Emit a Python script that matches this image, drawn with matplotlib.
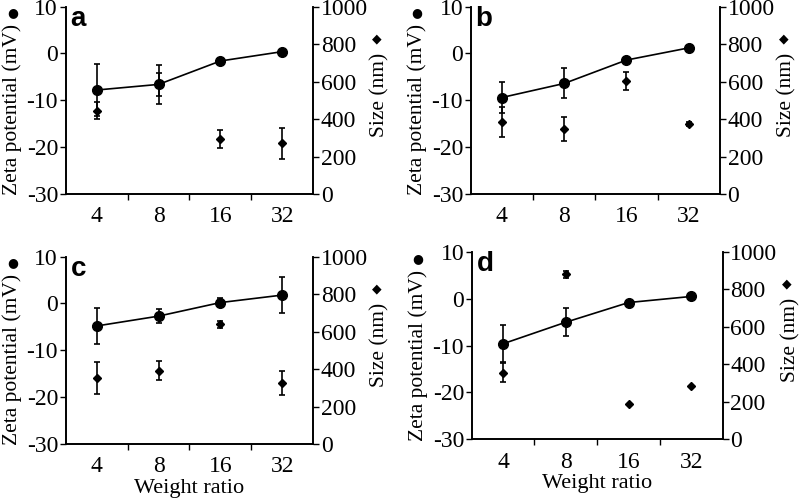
import matplotlib.pyplot as plt
import numpy as np

plt.rcParams['font.family'] = ['Liberation Serif', 'DejaVu Sans']
plt.rcParams['axes.unicode_minus'] = False

ratios = ['4', '8', '16', '32']

# zeta potential (mV) and particle size (nm) for the four panels
zeta_a = [-7.8, -6.6, -1.6, 0.4]
zeta_a_err = [5.6, 4.2, 0.6, 0.4]
size_a = [445, 585, 292, 270]
size_a_err = [47, 60, 47, 84]

zeta_b = [-9.4, -6.4, -1.4, 1.2]
zeta_b_err = [3.3, 3.2, 0.6, 0.6]
size_b = [385, 345, 603, 374]
size_b_err = [80, 64, 47, 10]

zeta_c = [-4.8, -2.7, 0.2, 1.8]
zeta_c_err = [3.75, 1.5, 0.9, 3.85]
size_c = [352, 391, 639, 324]
size_c_err = [84, 52, 20, 63]

zeta_d = [-9.6, -5.0, -0.8, 0.5]
zeta_d_err = [4.0, 2.95, 0.3, 0.6]
size_d = [356, 880, 190, 283]
size_d_err = [52, 20, 0, 0]

panels = [
    ('a', zeta_a, zeta_a_err, size_a, size_a_err, [0.0822, 0.6128, 0.3099, 0.3739], False),
    ('b', zeta_b, zeta_b_err, size_b, size_b_err, [0.5891, 0.6128, 0.3120, 0.3739], False),
    ('c', zeta_c, zeta_c_err, size_c, size_c_err, [0.0822, 0.1138, 0.3099, 0.3739], True),
    ('d', zeta_d, zeta_d_err, size_d, size_d_err, [0.5904, 0.1232, 0.3141, 0.3739], True),
]

fig = plt.figure(figsize=(7.99, 5.01), dpi=100)
x = np.arange(len(ratios)) + 0.5

for letter, zeta, zerr, size, serr, rect, show_xlabel in panels:
    ax = fig.add_axes(rect)
    ax2 = ax.twinx()

    ax.errorbar(x, zeta, yerr=zerr, fmt='o-', color='black', ms=7, lw=1.2,
                elinewidth=1.2, capsize=2.5, capthick=1.2, zorder=3)
    ax2.errorbar(x, size, yerr=serr, fmt='D', color='black', ms=4.5,
                 elinewidth=1.2, capsize=2.5, capthick=1.2)

    ax.set_xlim(0, 4)
    ax.set_ylim(-30, 10)
    ax.set_yticks([-30, -20, -10, 0, 10])
    ax2.set_ylim(0, 1000)
    ax2.set_yticks([0, 200, 400, 600, 800, 1000])

    ax.set_xticks(x)
    ax.set_xticklabels(ratios)
    ax.set_xticks([1, 2, 3], minor=True)
    ax.tick_params(axis='x', which='major', length=0, pad=9, labelsize=17)
    ax.tick_params(axis='x', which='minor', length=4, width=1, direction='out')
    ax.tick_params(axis='y', length=4, width=1, pad=1.5, labelsize=17)
    ax2.tick_params(axis='y', length=4, width=1, pad=1.5, labelsize=17)

    for a in (ax, ax2):
        a.spines['top'].set_visible(False)
        for s in a.spines.values():
            s.set_linewidth(1.2)

    ax.text(-0.215, 0.45, 'Zeta potential (mV)', rotation=90, transform=ax.transAxes,
            ha='center', va='center', fontsize=15.5)
    ax.text(-0.215, 0.966, '\u25cf', transform=ax.transAxes, ha='center', va='center',
            fontsize=9, family='DejaVu Sans')
    ax.text(1.27, 0.529, 'Size (nm)', rotation=90, transform=ax.transAxes,
            ha='center', va='center', fontsize=15.5)
    ax.text(1.257, 0.828, '\u25c6', transform=ax.transAxes, ha='center', va='center',
            fontsize=9, family='DejaVu Sans')

    ax.text(0.02, 0.899, letter, transform=ax.transAxes, ha='left', va='baseline',
            fontsize=20, fontweight='bold', family='Liberation Sans')

    if show_xlabel:
        ax.set_xlabel('Weight ratio', fontsize=16, labelpad=1)

fig.savefig('out.png', dpi=100)
